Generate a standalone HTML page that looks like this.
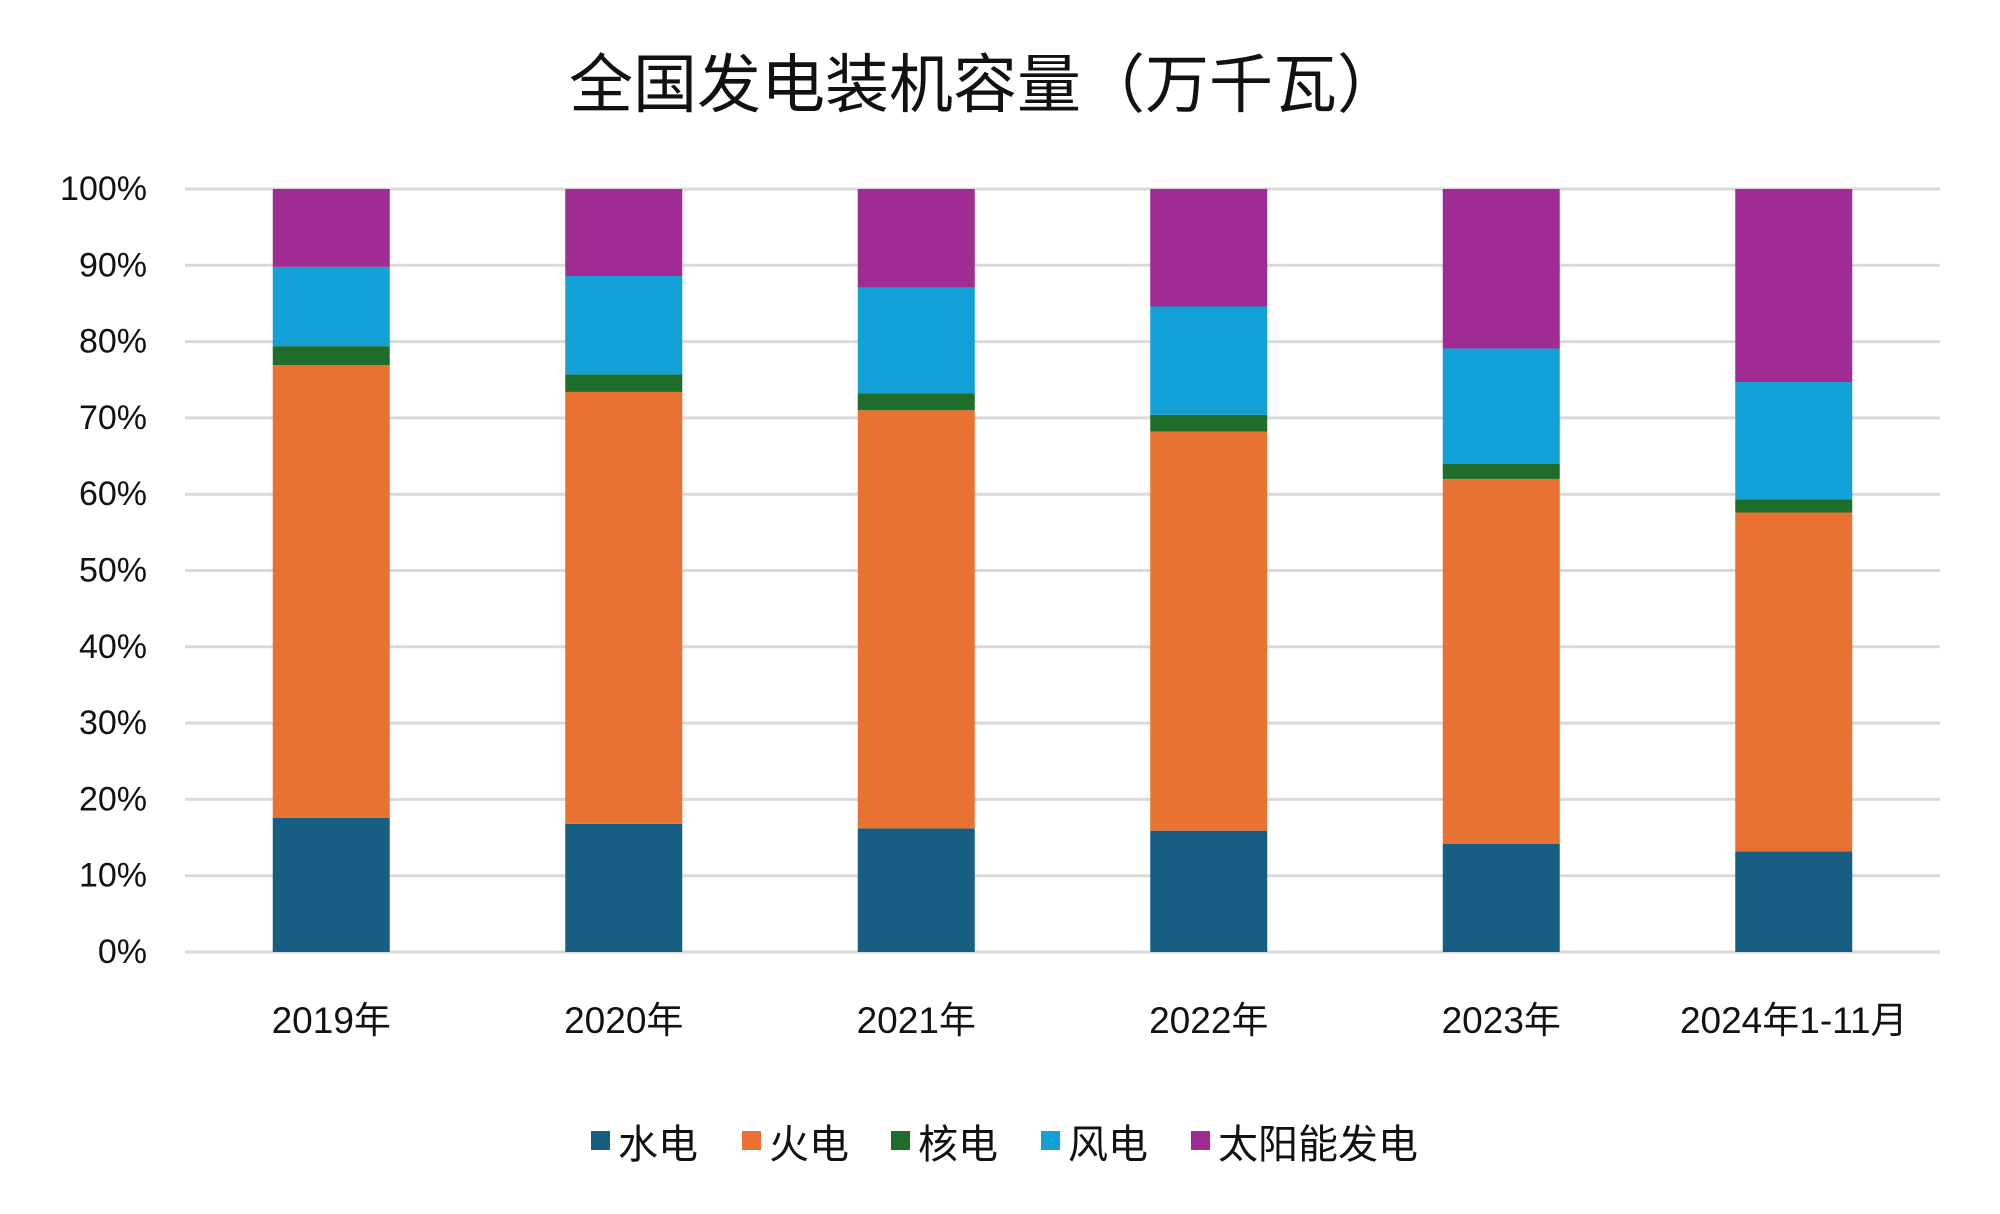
<!DOCTYPE html>
<html><head><meta charset="utf-8"><style>
body{margin:0;background:#fff;}
svg text{font-family:"Liberation Sans","Noto Sans CJK SC",sans-serif;fill:#111;}
</style></head><body>
<svg id="c" width="2000" height="1209">
<text x="985" y="107" font-size="64" text-anchor="middle">全国发电装机容量（万千瓦）</text>
<g id="grid"></g><g id="bars"></g><g id="xl"></g><g id="legend"></g>
</svg>
<script>
const categories=["2019年","2020年","2021年","2022年","2023年","2024年1-11月"];
const seriesNames=["水电","火电","核电","风电","太阳能发电"];
const hydro=[17.6,16.8,16.2,15.9,14.2,13.2];
const thermal=[59.3,56.6,54.8,52.3,47.8,44.4];
const nuclear=[2.5,2.3,2.2,2.2,2.0,1.7];
const wind=[10.4,12.9,13.9,14.2,15.1,15.4];
const solar=[10.2,11.4,12.9,15.4,20.9,25.3];
const yTicks=[0,10,20,30,40,50,60,70,80,90,100];
const colors=["#175f82","#e97132","#1e6e2a","#12a0d7","#a02b93"];
const series=[hydro,thermal,nuclear,wind,solar];
const L=185,R=1940,T=189,B=952;
const y=v=>B-(v/100)*(B-T);
const slot=(R-L)/categories.length;
const xc=i=>L+slot*(i+0.5);
const bw=slot*0.4;
const NS="http://www.w3.org/2000/svg";
function mk(t,a,p){const e=document.createElementNS(NS,t);for(const k in a)e.setAttribute(k,a[k]);p.appendChild(e);return e;}
const grid=document.getElementById('grid');
yTicks.forEach(t=>{
 const l=mk('line',{x1:L,x2:R,y1:y(t),y2:y(t),stroke:'#d9d9d9','stroke-width':3},grid);
 
 
 const tx=mk('text',{x:147,y:y(t)+11,'font-size':34,'text-anchor':'end'},grid);
 tx.textContent=t+'%';
 
 
});
const bars=document.getElementById('bars');
categories.forEach((c,i)=>{
 let acc=0;
 series.forEach((s,k)=>{
  const v=s[i];
  const r=mk('rect',{x:xc(i)-bw/2,y:y(acc+v),width:bw,height:y(acc)-y(acc+v),fill:colors[k]},bars);
  
  
  acc+=v;
 });
 const t=mk('text',{x:xc(i),y:1033,'font-size':37,'text-anchor':'middle'},document.getElementById('xl'));
 t.textContent=c;
 
 
});
const lg=document.getElementById('legend');
const lx=[591,742,891,1041,1191];
seriesNames.forEach((n,k)=>{
 const g=mk('g',{},lg);
 
 
 mk('rect',{x:lx[k],y:1131,width:19,height:19,fill:colors[k]},g);
 const t=mk('text',{x:lx[k]+27,y:1158,'font-size':40},g);
 t.textContent=n;
});
</script>
</body></html>
